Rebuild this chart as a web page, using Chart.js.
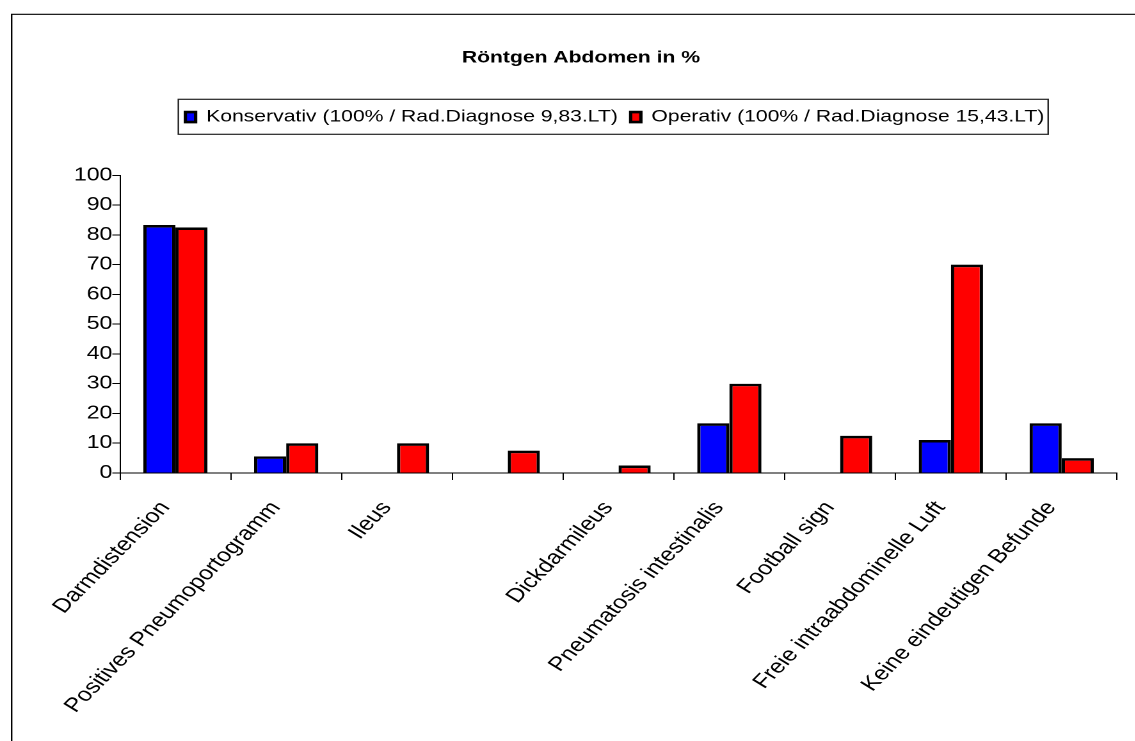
<!DOCTYPE html>
<html>
<head>
<meta charset="utf-8">
<title>Röntgen Abdomen in %</title>
<script src="https://cdn.jsdelivr.net/npm/chart.js@4.4.1/dist/chart.umd.min.js"></script>
<style>
  html, body { margin: 0; padding: 0; background: #fff; overflow: hidden; }
  /* das Original ist horizontal gestreckt, deshalb wird die Leinwand breitgezogen */
  #wrap { position: absolute; left: 0; top: 0; transform-origin: 0 0; transform: scaleX(1.28); }
</style>
</head>
<body>
<div id="wrap"><canvas id="chart" width="887" height="741"></canvas></div>
<script>
// --- DATEN ---
const kategorien = [
  'Darmdistension',
  'Positives Pneumoportogramm',
  'Ileus',
  '',
  'Dickdarmileus',
  'Pneumatosis intestinalis',
  'Football sign',
  'Freie intraabdominelle Luft',
  'Keine eindeutigen Befunde'
];
const konservativ = [83.3, 5.6, 0, 0, 0, 16.7, 0, 11.1, 16.7];
const operativ = [82.5, 10, 10, 7.5, 2.5, 30, 12.5, 70, 5];
const yTicks = [0, 10, 20, 30, 40, 50, 60, 70, 80, 90, 100];
const reihen = ['Konservativ (100% / Rad.Diagnose 9,83.LT)', 'Operativ (100% / Rad.Diagnose 15,43.LT)'];

const schrift = "'Liberation Sans', Arial, sans-serif";

// Rahmen oben/links wie im Original
const rahmen = {
  id: 'rahmen',
  beforeDraw(chart) {
    const c = chart.ctx;
    c.save();
    c.strokeStyle = '#000';
    c.lineWidth = 1.2;
    c.beginPath();
    c.moveTo(9.1, chart.height);
    c.lineTo(9.1, 14.3);
    c.lineTo(chart.width, 14.3);
    c.stroke();
    c.restore();
  }
};

// Kasten um die Legende
const legendeRahmen = {
  id: 'legendeRahmen',
  afterDraw(chart) {
    const boxes = chart.legend.legendHitBoxes;
    if (!boxes || !boxes.length) return;
    const l = Math.min(...boxes.map(b => b.left)) - 5.5;
    const r = Math.max(...boxes.map(b => b.left + b.width)) + 3;
    const t = boxes[0].top - 9.5;
    const b = boxes[0].top + 25.5;
    const c = chart.ctx;
    c.save();
    c.strokeStyle = '#222';
    c.lineWidth = 1.2;
    c.strokeRect(l, t, r - l, b - t);
    c.restore();
  }
};

// Titel und Legende stehen im Original nicht mittig
const versatz = {
  id: 'versatz',
  afterLayout(chart) {
    chart.titleBlock.left += 17.5;
    chart.titleBlock.right += 17.5;
    chart.legend.left += 44;
    chart.legend.right += 44;
  }
};

const ctx = document.getElementById('chart').getContext('2d');
new Chart(ctx, {
  type: 'bar',
  data: {
    labels: kategorien,
    datasets: [
      { label: reihen[0], data: konservativ, backgroundColor: '#0000ff', borderColor: '#000', borderWidth: 2.6 },
      { label: reihen[1], data: operativ, backgroundColor: '#ff0000', borderColor: '#000', borderWidth: 2.6 }
    ]
  },
  options: {
    responsive: false,
    animation: false,
    devicePixelRatio: 2,
    layout: { padding: { left: 0, right: 14.3, top: 0, bottom: 0 } },
    datasets: { bar: { categoryPercentage: 0.58, barPercentage: 1 } },
    plugins: {
      title: {
        display: true,
        text: 'Röntgen Abdomen in %',
        color: '#000',
        font: { family: schrift, size: 16.5, weight: 'bold' },
        padding: { top: 48, bottom: 31 }
      },
      legend: {
        display: true,
        position: 'top',
        weight: 1800,
        labels: {
          color: '#000',
          font: { family: schrift, size: 16.5 },
          boxWidth: 8,
          boxHeight: 10,
          padding: 10
        }
      },
      subtitle: {
        display: true,
        text: '',
        weight: 1500,
        font: { size: 10 },
        padding: { top: 0, bottom: 28 }
      },
      tooltip: { enabled: false }
    },
    scales: {
      x: {
        grid: { display: true, drawOnChartArea: false, drawTicks: true, tickLength: 7, color: '#000', offset: true },
        border: { display: true, color: '#000', width: 1 },
        ticks: {
          color: '#000',
          font: { family: schrift, size: 19.5 },
          minRotation: 52,
          maxRotation: 52,
          autoSkip: false,
          padding: 17,
          labelOffset: -8
        },
        afterFit(scale) { scale.height = 268; }
      },
      y: {
        min: 0,
        max: 100,
        afterBuildTicks(scale) { scale.ticks = yTicks.map(v => ({ value: v })); },
        grid: { display: true, drawOnChartArea: false, drawTicks: true, tickLength: 6, color: '#000' },
        border: { display: true, color: '#000', width: 1 },
        ticks: { color: '#000', font: { family: schrift, size: 18 }, padding: 0 },
        afterFit(scale) { scale.width = 93.75; }
      }
    }
  },
  plugins: [rahmen, legendeRahmen, versatz]
});
</script>
</body>
</html>
